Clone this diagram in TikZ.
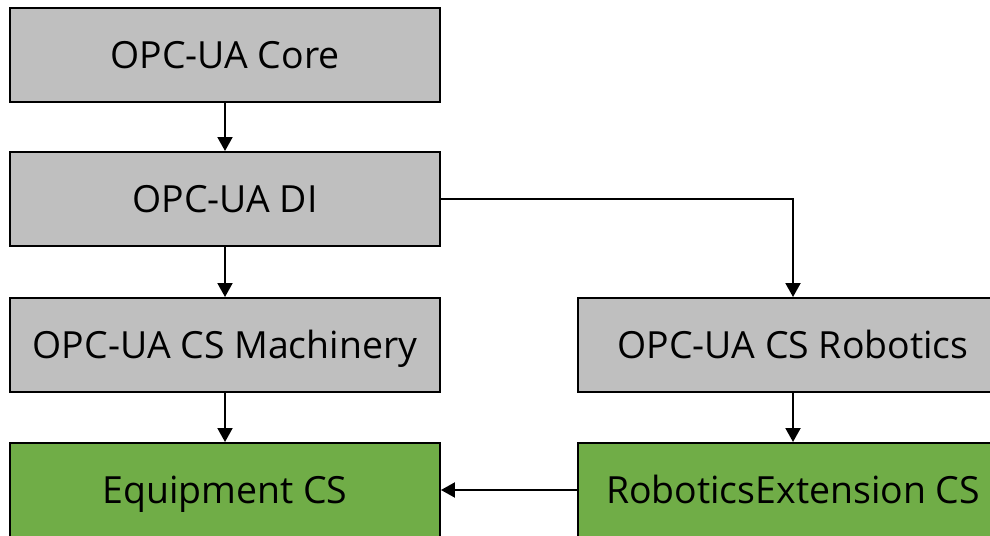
\documentclass[tikz,border=0pt]{standalone}
\usepackage{fontspec}
\setmainfont{Open Sans}
\usepackage{xcolor}
\usepackage{tikz}
\usetikzlibrary{arrows.meta, calc}
\definecolor{boxgray}{HTML}{BFBFBF}
\definecolor{boxgreen}{HTML}{70AD47}
\tikzset{
    spec/.style={draw=black, line width=0.04cm, fill=boxgray, minimum width=8.6cm, minimum height=1.88cm, inner sep=0pt, text height=15.3pt, text depth=0pt, font=\fontsize{21.3}{25}\selectfont},
    custom/.style={spec, fill=boxgreen},
    dep/.style={line width=0.04cm, -{Triangle[width=0.3cm, length=0.28cm]}}
}
\begin{document}
\begin{tikzpicture}[x=0.02cm, y=-0.02cm]
    \useasboundingbox (0,0) rectangle (990,536);
    \node[spec] (core) at (225,55) {OPC-UA Core};
    \node[spec] (di) at (225,199) {OPC-UA DI};
    \node[spec] (mach) at (225,345) {OPC-UA CS Machinery};
    \node[spec] (robo) at (793,345) {OPC-UA CS Robotics};
    \node[custom] (equip) at (225,490) {Equipment CS};
    \node[custom] (roboext) at (793,490) {RoboticsExtension CS};
    \draw[dep] (core) -- (di);
    \draw[dep] (di) -- (mach);
    \draw[dep] (mach) -- (equip);
    \draw[dep] (robo) -- (roboext);
    \draw[dep] (di.east) -| (robo.north);
    \draw[dep] (roboext.west) -- (equip.east); % Extension uses Equipment
\end{tikzpicture}
\end{document}
